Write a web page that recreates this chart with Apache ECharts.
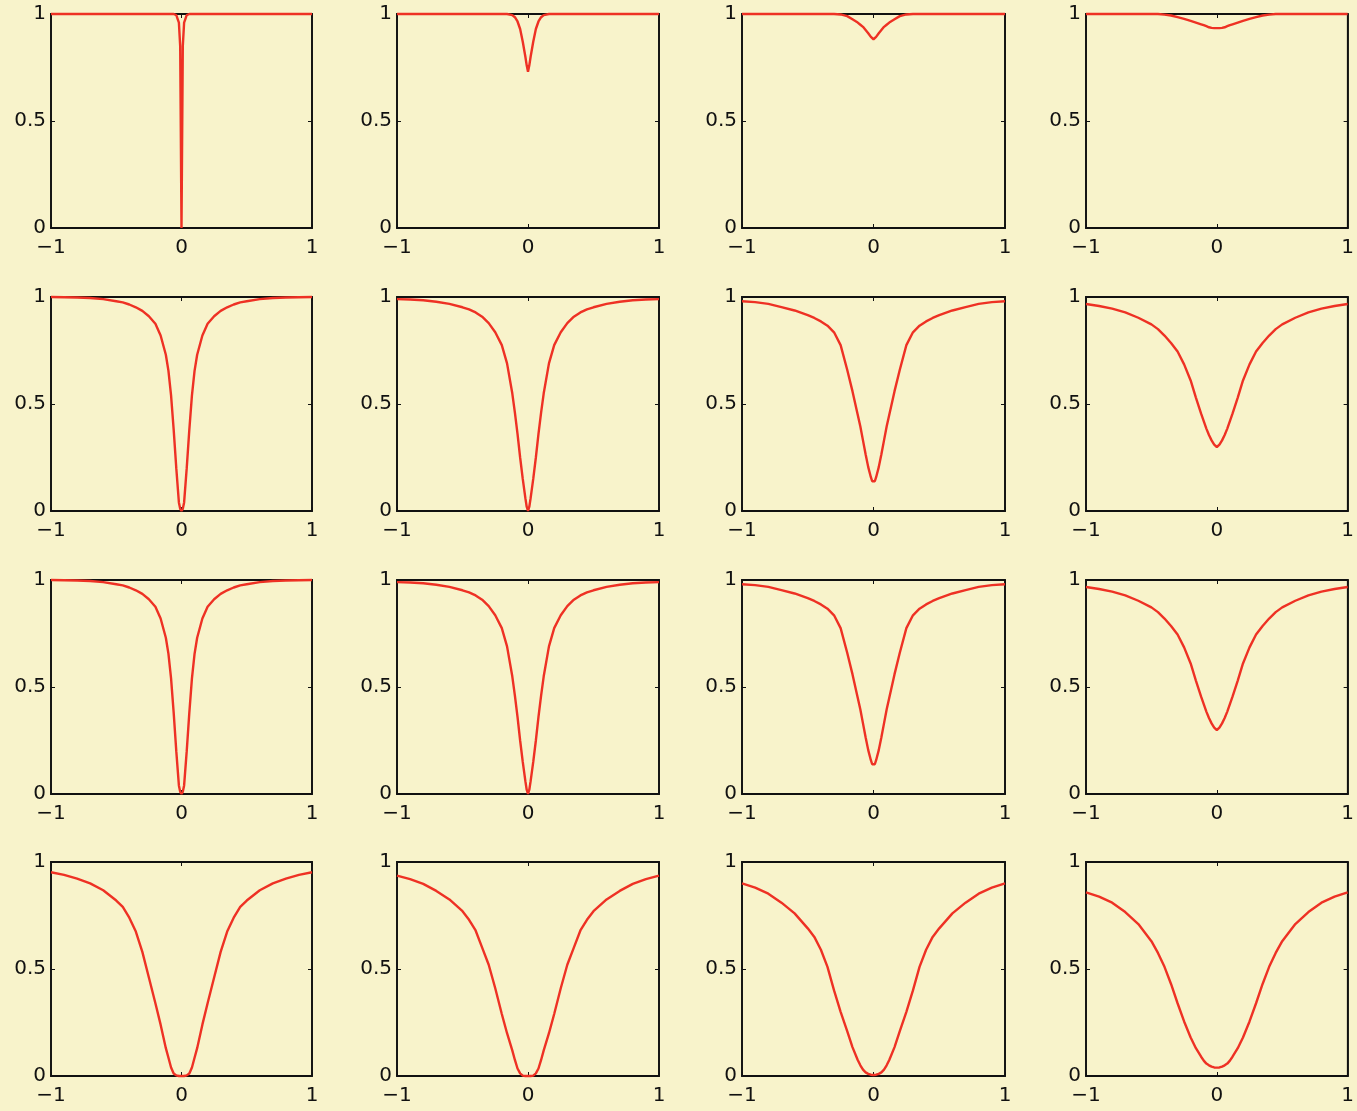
<!DOCTYPE html>
<html><head><meta charset="utf-8">
<script src="https://cdn.jsdelivr.net/npm/echarts@6/dist/echarts.min.js"></script>
<style>html,body{margin:0;padding:0;background:#f8f3cb}#c{width:1357px;height:1111px}</style>
</head><body><div id="c"></div>
<script>
// x sample positions shared by every panel
const xValues = [-1,-0.9,-0.8,-0.7,-0.6,-0.5,-0.45,-0.4,-0.35,-0.3,-0.25,-0.2,-0.16,-0.12,-0.1,-0.08,-0.06,-0.04,-0.02,-0.01,0,
                 0.01,0.02,0.04,0.06,0.08,0.1,0.12,0.16,0.2,0.25,0.3,0.35,0.4,0.45,0.5,0.6,0.7,0.8,0.9,1];
const xTickValues = [-1, 0, 1];
const yTickValues = [0, 0.5, 1];

// Row 1
const r1c1 = [1,1,1,1,1,1,1,1,1,1,1,1,1,1,1,1,1,0.995,0.96,0.85,0,0.85,0.96,0.995,1,1,1,1,1,1,1,1,1,1,1,1,1,1,1,1,1];
const r1c2 = [1,1,1,1,1,1,1,1,1,1,1,1,1,0.995,0.985,0.965,0.93,0.87,0.80,0.76,0.73,0.76,0.80,0.87,0.93,0.965,0.985,0.995,1,1,1,1,1,1,1,1,1,1,1,1,1];
const r1c3 = [1,1,1,1,1,1,1,1,1,1,0.998,0.99,0.975,0.96,0.95,0.94,0.925,0.91,0.893,0.887,0.882,0.887,0.893,0.91,0.925,0.94,0.95,0.96,0.975,0.99,0.998,1,1,1,1,1,1,1,1,1,1];
const r1c4 = [1,1,1,1,1,1,1,0.997,0.993,0.985,0.977,0.968,0.96,0.952,0.948,0.943,0.938,0.935,0.934,0.934,0.934,0.934,0.934,0.935,0.938,0.943,0.948,0.952,0.96,0.968,0.977,0.985,0.993,0.997,1,1,1,1,1,1,1];
// Row 2
const r2c1 = [1,0.999,0.998,0.995,0.99,0.98,0.975,0.965,0.952,0.935,0.91,0.875,0.82,0.73,0.655,0.54,0.38,0.2,0.04,0.01,0,0.01,0.04,0.2,0.38,0.54,0.655,0.73,0.82,0.875,0.91,0.935,0.952,0.965,0.975,0.98,0.99,0.995,0.998,0.999,1];
const r2c2 = [0.99,0.988,0.985,0.978,0.968,0.952,0.942,0.928,0.908,0.878,0.835,0.775,0.69,0.55,0.46,0.36,0.25,0.15,0.06,0.02,0,0.02,0.06,0.15,0.25,0.36,0.46,0.55,0.69,0.775,0.835,0.878,0.908,0.928,0.942,0.952,0.968,0.978,0.985,0.988,0.99];
const r2c3 = [0.98,0.976,0.968,0.953,0.937,0.915,0.902,0.886,0.866,0.835,0.775,0.66,0.56,0.45,0.395,0.33,0.265,0.205,0.158,0.139,0.13,0.139,0.158,0.205,0.265,0.33,0.395,0.45,0.56,0.66,0.775,0.835,0.866,0.886,0.902,0.915,0.937,0.953,0.968,0.976,0.98];
const r2c4 = [0.967,0.958,0.946,0.928,0.903,0.872,0.85,0.82,0.785,0.745,0.685,0.61,0.53,0.455,0.42,0.385,0.355,0.33,0.31,0.302,0.299,0.302,0.31,0.33,0.355,0.385,0.42,0.455,0.53,0.61,0.685,0.745,0.785,0.82,0.85,0.872,0.903,0.928,0.946,0.958,0.967];
// Row 3
const r3c1 = [1,0.999,0.998,0.995,0.99,0.98,0.975,0.965,0.952,0.935,0.91,0.875,0.82,0.73,0.655,0.54,0.38,0.2,0.04,0.01,0,0.01,0.04,0.2,0.38,0.54,0.655,0.73,0.82,0.875,0.91,0.935,0.952,0.965,0.975,0.98,0.99,0.995,0.998,0.999,1];
const r3c2 = [0.99,0.988,0.985,0.978,0.968,0.952,0.942,0.928,0.908,0.878,0.835,0.775,0.69,0.55,0.46,0.36,0.25,0.15,0.06,0.02,0,0.02,0.06,0.15,0.25,0.36,0.46,0.55,0.69,0.775,0.835,0.878,0.908,0.928,0.942,0.952,0.968,0.978,0.985,0.988,0.99];
const r3c3 = [0.98,0.976,0.968,0.953,0.937,0.915,0.902,0.886,0.866,0.835,0.775,0.66,0.56,0.45,0.395,0.33,0.265,0.205,0.158,0.139,0.13,0.139,0.158,0.205,0.265,0.33,0.395,0.45,0.56,0.66,0.775,0.835,0.866,0.886,0.902,0.915,0.937,0.953,0.968,0.976,0.98];
const r3c4 = [0.967,0.958,0.946,0.928,0.903,0.872,0.85,0.82,0.785,0.745,0.685,0.61,0.53,0.455,0.42,0.385,0.355,0.33,0.31,0.302,0.299,0.302,0.31,0.33,0.355,0.385,0.42,0.455,0.53,0.61,0.685,0.745,0.785,0.82,0.85,0.872,0.903,0.928,0.946,0.958,0.967];
// Row 4
const r4c1 = [0.952,0.94,0.922,0.9,0.868,0.82,0.79,0.74,0.675,0.58,0.46,0.34,0.24,0.13,0.085,0.04,0.012,0.003,0,0,0,0,0,0.003,0.012,0.04,0.085,0.13,0.24,0.34,0.46,0.58,0.675,0.74,0.79,0.82,0.868,0.9,0.922,0.94,0.952];
const r4c2 = [0.936,0.92,0.898,0.865,0.825,0.77,0.73,0.68,0.6,0.52,0.41,0.29,0.2,0.12,0.075,0.035,0.012,0.002,0,0,0,0,0,0.002,0.012,0.035,0.075,0.12,0.2,0.29,0.41,0.52,0.6,0.68,0.73,0.77,0.825,0.865,0.898,0.92,0.936];
const r4c3 = [0.9,0.88,0.852,0.81,0.76,0.69,0.65,0.59,0.51,0.4,0.3,0.21,0.135,0.075,0.05,0.03,0.017,0.01,0.006,0.005,0.005,0.005,0.006,0.01,0.017,0.03,0.05,0.075,0.135,0.21,0.3,0.4,0.51,0.59,0.65,0.69,0.76,0.81,0.852,0.88,0.9];
const r4c4 = [0.858,0.838,0.81,0.766,0.71,0.63,0.575,0.51,0.43,0.34,0.255,0.18,0.13,0.09,0.072,0.058,0.05,0.044,0.04,0.039,0.039,0.039,0.04,0.044,0.05,0.058,0.072,0.09,0.13,0.18,0.255,0.34,0.43,0.51,0.575,0.63,0.71,0.766,0.81,0.838,0.858];

const panels = [[r1c1,r1c2,r1c3,r1c4],[r2c1,r2c2,r2c3,r2c4],[r3c1,r3c2,r3c3,r3c4],[r4c1,r4c2,r4c3,r4c4]];

const colLeft = [51, 397, 742, 1086];
const colWidth = [261, 262, 263, 264];
const rowTop = [14, 297, 580, 862];
const rowHeight = 214;

const font = 'DejaVu Sans';
const ink = '#111';
const fmtX = v => (v < 0 ? '\u2212' + Math.abs(v) : String(v));

const grid = [], xAxis = [], yAxis = [], series = [];
panels.forEach((row, r) => row.forEach((ys, c) => {
  const gi = grid.length;
  grid.push({left: colLeft[c], top: rowTop[r], width: colWidth[c], height: rowHeight,
             show: true, borderColor: ink, borderWidth: 1.5, backgroundColor: 'transparent'});
  const common = {gridIndex: gi, type: 'value', splitLine: {show: false}};
  const line = {show: true, onZero: false, lineStyle: {color: ink, width: 1.8}};
  const tick = {show: true, inside: true, length: 4, lineStyle: {color: ink}};
  xAxis.push(Object.assign({}, common, {position: 'bottom', min: xTickValues[0], max: xTickValues[2], interval: 1,
    axisLine: line, axisTick: tick,
    axisLabel: {margin: 10, fontSize: 20, color: ink, fontFamily: font, formatter: fmtX}}));
  xAxis.push(Object.assign({}, common, {position: 'top', min: -1, max: 1, interval: 1,
    axisLine: line, axisTick: tick, axisLabel: {show: false}}));
  yAxis.push(Object.assign({}, common, {position: 'left', min: yTickValues[0], max: yTickValues[2], interval: 0.5,
    axisLine: line, axisTick: tick,
    axisLabel: {margin: 5, fontSize: 20, color: ink, fontFamily: font}}));
  yAxis.push(Object.assign({}, common, {position: 'right', min: 0, max: 1, interval: 0.5,
    axisLine: line, axisTick: tick, axisLabel: {show: false}}));
  series.push({type: 'line', xAxisIndex: gi * 2, yAxisIndex: gi * 2, showSymbol: false, symbol: 'none',
    clip: false, animation: false, lineStyle: {color: '#ee3124', width: 2.4},
    data: xValues.map((x, i) => [x, ys[i]])});
}));

const chart = echarts.init(document.getElementById('c'), null, {renderer: 'canvas'});
chart.setOption({backgroundColor: '#f8f3cb', animation: false, grid, xAxis, yAxis, series});
</script>
</body></html>
